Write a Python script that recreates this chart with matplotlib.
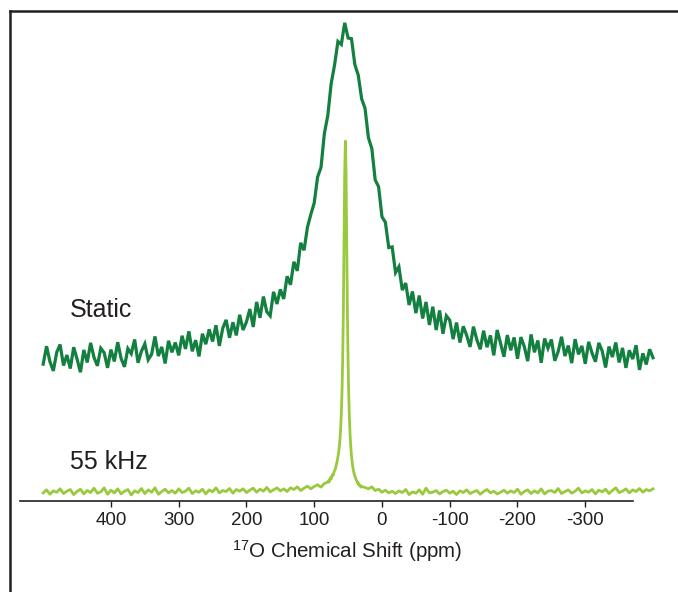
import matplotlib
matplotlib.use("Agg")
import matplotlib.pyplot as plt
import numpy as np
from matplotlib.lines import Line2D

plt.rcParams['font.family'] = ['Liberation Sans', 'DejaVu Sans']
plt.rcParams['mathtext.default'] = 'regular'

# static spectrum, 500 -> -400 ppm every 5 ppm
static_ppm = np.arange(500, -401, -5)
static_int = [
    0.5, 5.8, 1.2, -1.5, 4.0, 6.3, 0.1, 3.2, -0.8, 5.5,
    2.0, -1.9, 4.7, 1.0, 6.8, 2.5, 0.0, 5.2, 3.9, -0.6,
    4.8, 1.3, 7.0, 2.2, -0.3, 5.1, 3.6, 7.8, 0.9, 4.3,
    6.5, 1.8, 3.4, 8.7, 2.9, 5.6, 0.7, 7.4, 4.0, 6.9,
    3.1, 8.9, 5.0, 10.2, 4.3, 7.6, 2.8, 9.5, 6.4, 10.8,
    7.2, 12.0, 5.9, 11.1, 13.6, 8.3, 12.9, 9.0, 15.1, 10.6,
    13.0, 16.8, 11.5, 18.9, 14.2, 20.5, 16.0, 14.8, 21.9, 18.3,
    22.6, 19.8, 26.5, 24.0, 30.8, 28.1, 36.4, 34.2, 41.0, 44.8,
    48.2, 55.9, 58.7, 68.8, 74.0, 83.5, 89.0, 96.0, 95.1, 101.5,
    97.0, 96.8, 89.1, 86.0, 79.0, 76.2, 67.5, 64.3, 55.0, 53.0,
    44.1, 42.5, 35.0, 35.2, 27.6, 29.3, 22.4, 24.5, 18.0, 22.0,
    15.6, 20.8, 14.0, 18.9, 12.1, 17.5, 10.6, 16.4, 9.5, 14.8,
    13.5, 7.9, 12.8, 6.9, 11.7, 9.0, 5.6, 11.6, 7.7, 4.9,
    10.4, 5.5, 9.0, 3.1, 10.6, 6.6, 2.7, 9.1, 4.6, 8.4,
    2.1, 8.5, 5.7, 1.4, 9.3, 4.0, 7.5, 0.9, 8.1, 5.2,
    7.8, 1.5, 4.2, 8.6, 2.9, 6.0, 0.8, 7.9, 3.4, 5.9,
    0.6, 7.1, 3.8, 1.2, 6.8, 4.4, -0.5, 5.7, 2.6, 6.9,
    1.0, 5.3, -0.6, 4.6, 2.0, 6.1, -1.2, 3.7, 0.4, 4.9,
    2.4,
]

# 55 kHz MAS spectrum, finer sampling around the sharp line
mas_ppm = np.concatenate([np.arange(500, 79, -5),
                          np.arange(79, 29, -1),
                          np.arange(25, -401, -5)])
mas_int = [
    2.4, 3.3, 2.0, 3.0, 2.6, 3.6, 2.2, 2.9, 3.4, 1.9,
    2.8, 3.5, 2.1, 3.1, 2.5, 3.8, 2.3, 2.7, 3.9, 2.0,
    3.2, 2.4, 3.6, 2.1, 2.9, 3.4, 1.8, 3.0, 2.5, 3.7,
    2.2, 3.3, 2.6, 3.9, 2.0, 2.8, 3.5, 2.4, 3.1, 2.3,
    3.6, 2.5, 2.9, 3.8, 2.2, 3.0, 2.6, 3.5, 2.1, 3.3,
    2.7, 3.9, 2.4, 3.1, 2.8, 3.7, 2.3, 3.4, 2.9, 3.6,
    2.5, 3.2, 3.8, 2.6, 3.5, 2.9, 4.0, 2.7, 3.3, 3.9,
    3.0, 3.6, 2.8, 3.9, 3.4, 4.2, 3.1, 3.8, 4.4, 3.6,
    4.3, 4.8, 4.1, 5.2, 5.6,
    6.0, 5.6, 6.4, 6.9, 6.5, 7.3, 7.8, 7.6, 8.4, 9.0,
    9.3, 10.2, 11.0, 11.9, 13.1, 14.3, 16.0, 18.3, 21.4, 25.9,
    32.4, 42.0, 56.2, 75.8, 97.0, 106.5, 96.8, 75.4, 55.5, 41.0,
    31.0, 24.2, 19.3, 16.0, 13.4, 11.5, 10.0, 8.9, 8.0, 7.3,
    6.9, 6.2, 5.9, 5.2, 5.4, 4.8, 4.5, 4.7, 4.1, 4.3,
    4.0, 3.6, 4.2, 3.1, 3.5, 2.6, 3.2, 2.4, 2.9, 2.2,
    3.0, 2.5, 3.4, 1.9, 2.7, 2.3, 3.3, 2.0, 3.8, 2.4,
    2.6, 3.1, 2.1, 2.8, 3.2, 2.3, 2.9, 1.9, 3.0, 2.5,
    3.3, 2.2, 2.7, 3.1, 2.0, 2.8, 3.4, 2.4, 2.9, 2.1,
    2.6, 3.2, 2.3, 3.0, 2.5, 3.5, 2.0, 2.8, 3.3, 2.2,
    3.0, 2.4, 3.6, 2.1, 2.9, 3.1, 2.5, 3.7, 2.2, 2.8,
    3.3, 2.3, 2.9, 3.8, 2.4, 3.0, 2.6, 3.4, 2.1, 3.2,
    2.7, 3.5, 2.2, 3.1, 3.9, 2.5, 2.9, 3.6, 2.4, 3.3,
    2.8, 3.7, 2.6, 3.4, 3.0, 3.6,
]

static_offset = 40
tick_values = [400, 300, 200, 100, 0, -100, -200, -300]
tick_labels = ['400', '300', '200', '100', '0', '-100', '-200', '-300']

W, H = 678, 592
fig = plt.figure(figsize=(W / 100, H / 100), dpi=100)
ax = fig.add_axes([20 / W, 91 / H, 640 / W, 490 / H])

ax.plot(static_ppm, np.array(static_int) + static_offset, color='#138040', lw=2.3,
        solid_joinstyle='miter')
ax.plot(mas_ppm, mas_int, color='#9ac93d', lw=2.0)

ax.set_xlim(534.2, -410.3)
ax.set_ylim(0, 145)
for s in ['top', 'right', 'left']:
    ax.spines[s].set_visible(False)
ax.spines['bottom'].set_bounds(534.2, -370.4)
ax.spines['bottom'].set_linewidth(1.2)
ax.spines['bottom'].set_color('#231f20')
ax.set_yticks([])
ax.set_xticks(tick_values)
ax.set_xticklabels(tick_labels)
ax.tick_params(axis='x', direction='out', length=4, width=1, color='#231f20',
               labelsize=13.5, labelcolor='#231f20', pad=4)

ax.text(461, 56.5, 'Static', fontsize=18, color='#231f20', ha='left', va='center')
ax.text(461, 11.5, '55 kHz', fontsize=18, color='#231f20', ha='left', va='center')

fig.text(347 / W, 1 - 551 / H, r'$^{17}$O Chemical Shift (ppm)', fontsize=14.8,
         color='#231f20', ha='center', va='center')

# outer frame (top and left edges visible)
fig.add_artist(Line2D([10 / W, 10 / W], [0, 1 - 11 / H], transform=fig.transFigure,
                      color='#231f20', lw=1.8, solid_capstyle='projecting'))
fig.add_artist(Line2D([10 / W, 1], [1 - 11 / H, 1 - 11 / H], transform=fig.transFigure,
                      color='#231f20', lw=1.8, solid_capstyle='projecting'))

fig.savefig('out.png', dpi=100)
